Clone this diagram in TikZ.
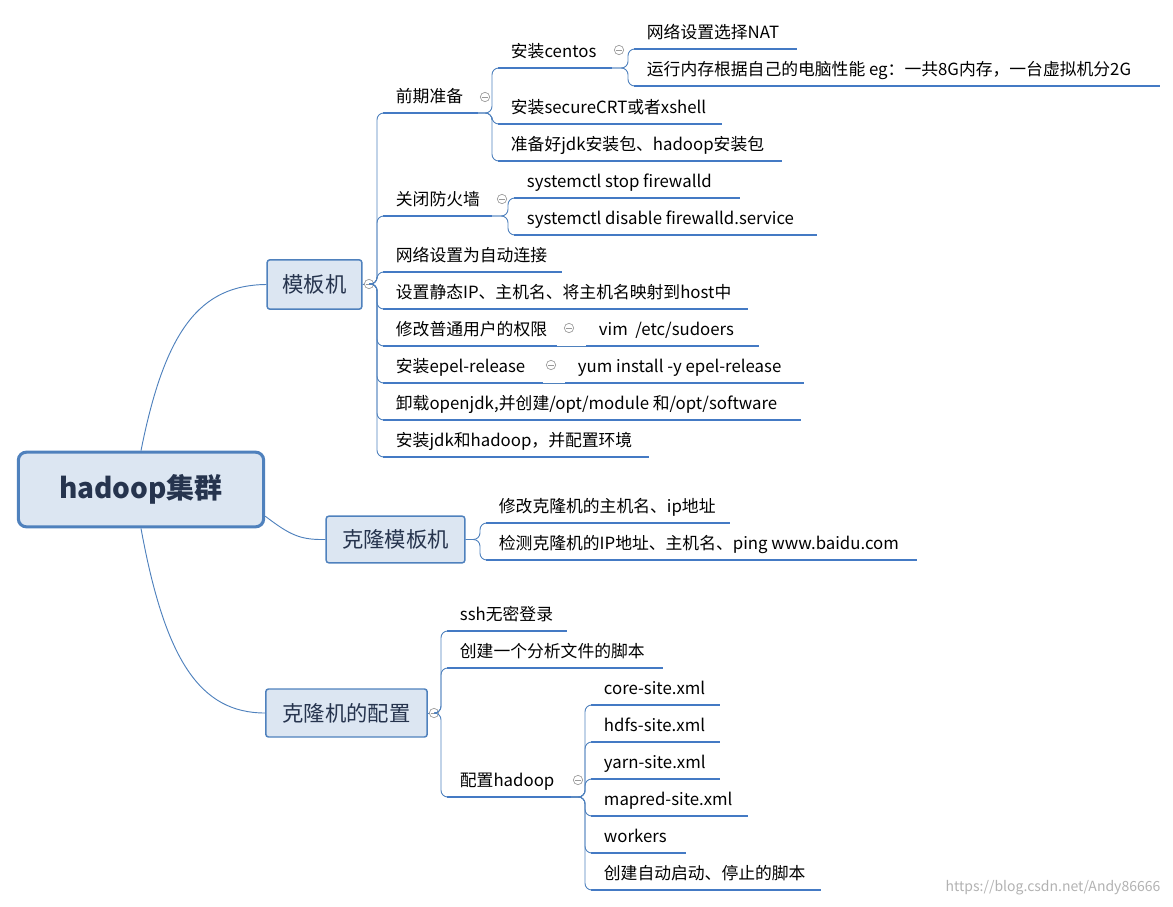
\documentclass[tikz,border=0pt]{standalone}
\usepackage{fontspec}
\setmainfont{Noto Sans CJK SC}
\usepackage{xcolor}
\usepackage{tikz}
\usetikzlibrary{calc}
\definecolor{lineblue}{RGB}{79,129,189}
\definecolor{ulblue}{RGB}{68,122,196}
\definecolor{boxfill}{RGB}{220,230,242}
\definecolor{txtdark}{RGB}{38,52,78}
\tikzset{
  leaf/.style={anchor=south west,inner xsep=9.5pt,inner ysep=5pt,text height=10pt,text depth=3pt,
    font=\fontsize{12.6}{15}\selectfont,text=black},
  uline/.style={draw=ulblue,line width=1.9pt},
  branch/.style={draw=lineblue,line width=0.7pt,rounded corners=5pt},
  topic/.style={draw=lineblue,line width=1.1pt,fill=boxfill,rounded corners=2pt,
    font=\fontsize{16}{19}\selectfont,text=txtdark},
  fold/.style={circle,draw=gray!80,line width=0.5pt,minimum size=7pt,inner sep=0pt,fill=white,
    path picture={\draw[gray!80,line width=0.5pt] ([xshift=-2pt]path picture bounding box.center) -- ([xshift=2pt]path picture bounding box.center);}}
}
\newcommand\leaf[5]{\node[leaf] (#1) at (#2,#3) {#5};
  \draw[uline] (#1.south west) -- (#4,#3) coordinate (#1-e);}
\newcommand\fold[2]{\node[fold] at (#1,#2) {};}

\begin{document}
\begin{tikzpicture}[x=0.75pt,y=-0.75pt]
\useasboundingbox (0,0) rectangle (1173,906);

% root and main topics
\node[topic,line width=2.3pt,rounded corners=6pt,minimum width=184pt,minimum height=56pt,
  font=\fontsize{21}{25}\selectfont\bfseries] (root) at (141,489.5) {hadoop集群};
\node[topic,minimum width=71pt,minimum height=37pt] (mbj) at (314.5,284.5) {模板机};
\node[topic,minimum width=104pt,minimum height=35pt] (klmbj) at (395.5,539.5) {克隆模板机};
\node[topic,minimum width=121pt,minimum height=36pt] (kljpz) at (346.5,713) {克隆机的配置};

\draw[branch] (root.north) .. controls (165,330) and (200,285) .. (mbj.west);
\draw[branch] ([yshift=-20pt]root.east) .. controls (290,535) and (300,540) .. (klmbj.west);
\draw[branch] (root.south) .. controls (165,660) and (200,713) .. (kljpz.west);

% template machine
\coordinate (mbj-p) at (369,284);
\draw[branch] (mbj.east) -- (mbj-p);
\fold{369}{284}
\leaf{qqzb}{383}{113}{478}{前期准备}
\leaf{gbfhq}{383}{216}{492}{关闭防火墙}
\leaf{wlsz}{383}{272}{562}{网络设置为自动连接}
\leaf{sjip}{383}{309}{748}{设置静态IP、主机名、将主机名映射到host中}
\leaf{xgqx}{383}{346}{557}{修改普通用户的权限}
\leaf{epel}{383}{383}{543}{安装epel-release}
\leaf{xzjdk}{383}{420}{801}{卸载openjdk,并创建/opt/module 和/opt/software}
\leaf{azjdk}{383}{457}{649}{安装jdk和hadoop，并配置环境}
\foreach \n in {qqzb,gbfhq,wlsz,sjip,xgqx,epel,xzjdk,azjdk}
  \draw[branch] (mbj-p) -| ([xshift=-4.5pt]\n.south west) -- (\n.south west);

\fold{485}{97}
\leaf{azcentos}{498}{68}{612}{安装centos}
\leaf{azcrt}{498}{124}{722}{安装secureCRT或者xshell}
\leaf{zbjdk}{498}{161}{782}{准备好jdk安装包、hadoop安装包}
\foreach \n in {azcentos,azcrt,zbjdk}
  \draw[branch] (qqzb-e) -| ([xshift=-4.5pt]\n.south west) -- (\n.south west);

\fold{619}{50}
\leaf{nat}{634}{49}{797}{网络设置选择NAT}
\leaf{ncun}{634}{86}{1160}{运行内存根据自己的电脑性能 eg：一共8G内存，一台虚拟机分2G}
\foreach \n in {nat,ncun}
  \draw[branch] (azcentos-e) -| ([xshift=-4.5pt]\n.south west) -- (\n.south west);

\fold{502}{199}
\leaf{fwstop}{514}{198}{740}{systemctl stop firewalld}
\leaf{fwdis}{514}{235}{817}{systemctl disable firewalld.service}
\foreach \n in {fwstop,fwdis}
  \draw[branch] (gbfhq-e) -| ([xshift=-4.5pt]\n.south west) -- (\n.south west);

\fold{569}{328}
\leaf{vim}{586}{346}{759}{vim\ \ /etc/sudoers}
\draw[branch] (xgqx-e) -- (vim.south west);
\fold{551}{365}
\leaf{yum}{565}{383}{804}{yum install -y epel-release}
\draw[branch] (epel-e) -- (yum.south west);

% cloned template
\leaf{xgkl}{486}{523}{730}{修改克隆机的主机名、ip地址}
\leaf{jckl}{486}{560}{917}{检测克隆机的IP地址、主机名、ping www.baidu.com}
\foreach \n in {xgkl,jckl}
  \draw[branch] (klmbj.east) -| ([xshift=-4.5pt]\n.south west) -- (\n.south west);

% configuration of clones
\coordinate (kljpz-p) at (434,713);
\draw[branch] (kljpz.east) -- (kljpz-p);
\fold{434}{713}
\leaf{ssh}{447}{631}{567}{ssh无密登录}
\leaf{cjjb}{447}{668}{663}{创建一个分析文件的脚本}
\leaf{pzhd}{447}{797}{571}{配置hadoop}
\foreach \n in {ssh,cjjb,pzhd}
  \draw[branch] (kljpz-p) -| ([xshift=-4.5pt]\n.south west) -- (\n.south west);

\fold{578}{780}
\leaf{core}{591}{705}{720}{core-site.xml}
\leaf{hdfs}{591}{742}{720}{hdfs-site.xml}
\leaf{yarn}{591}{779}{720}{yarn-site.xml}
\leaf{mapred}{591}{816}{748}{mapred-site.xml}
\leaf{workers}{591}{853}{686}{workers}
\leaf{qdjb}{591}{890}{821}{创建自动启动、停止的脚本}
\foreach \n in {core,hdfs,yarn,mapred,workers,qdjb}
  \draw[branch] (pzhd-e) -| ([xshift=-4.5pt]\n.south west) -- (\n.south west);

\node[gray!60,font=\fontsize{10.5}{12}\selectfont] (wm) at (1053,888) {https://blog.csdn.net/Andy86666};
\end{tikzpicture}
\end{document}
